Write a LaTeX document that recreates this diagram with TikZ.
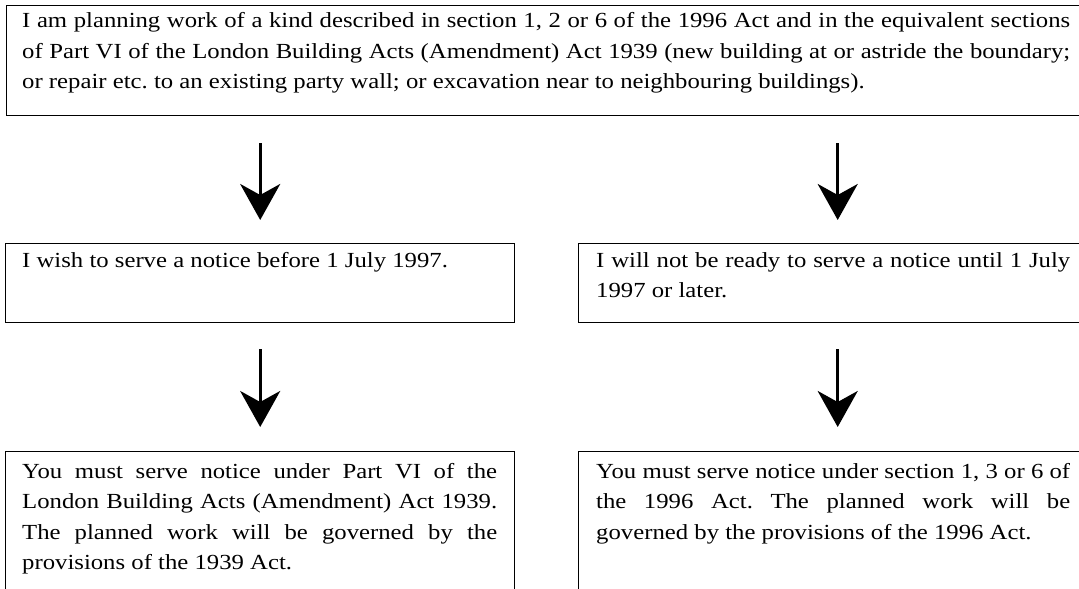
\documentclass[tikz,border=0pt]{standalone}
\usepackage{fontspec}
\setmainfont{Liberation Serif}[FakeStretch=1.15]
\usetikzlibrary{arrows.meta}
\frenchspacing
\newcommand{\jline}[1]{\makebox[\linewidth][s]{#1}\par}
\newcommand{\lline}[1]{\makebox[\linewidth][l]{#1}\par}
\tikzset{
  boxnode/.style={draw=black, line width=1.4pt, rectangle, inner sep=0pt, anchor=north west},
  txtnode/.style={anchor=base west, inner sep=0pt, font=\fontsize{21.5}{30.5}\selectfont},
  arr/.style={line width=3pt, -{Stealth[length=36pt,width=40pt,inset=11pt]}},
}
\begin{document}
\begin{tikzpicture}[x=1pt,y=-1pt]
\useasboundingbox (0,0) rectangle (1079,589);
\clip (0,0) rectangle (1079,589);
% boxes
\node[boxnode, minimum width=1090pt, minimum height=110pt] (top) at (6,5) {};
\node[boxnode, minimum width=509pt, minimum height=79pt] (ml) at (5,243) {};
\node[boxnode, minimum width=518pt, minimum height=79pt] (mr) at (578,243) {};
\node[boxnode, minimum width=509pt, minimum height=160pt] (bl) at (5,451) {};
\node[boxnode, minimum width=518pt, minimum height=160pt] (br) at (578,451) {};
% texts
\node[txtnode] (ttop) at (22,27.5) {\parbox[t]{1048pt}{%
\jline{I am planning work of a kind described in section 1, 2 or 6 of the 1996 Act and in the equivalent sections}
\jline{of Part VI of the London Building Acts (Amendment) Act 1939 (new building at or astride the boundary;}
\lline{or repair etc. to an existing party wall; or excavation near to neighbouring buildings).}}};
\node[txtnode] (tml) at (22,267) {\parbox[t]{475pt}{%
\lline{I wish to serve a notice before 1 July 1997.}}};
\node[txtnode] (tmr) at (596,267) {\parbox[t]{474pt}{%
\jline{I will not be ready to serve a notice until 1 July}
\lline{1997 or later.}}};
\node[txtnode] (tbl) at (22,478) {\parbox[t]{475pt}{%
\jline{You must serve notice under Part VI of the}
\jline{London Building Acts (Amendment) Act 1939.}
\jline{The planned work will be governed by the}
\lline{provisions of the 1939 Act.}}};
\node[txtnode] (tbr) at (596,478) {\parbox[t]{474pt}{%
\jline{You must serve notice under section 1, 3 or 6 of}
\jline{the 1996 Act. The planned work will be}
\lline{governed by the provisions of the 1996 Act.}}};
% arrows
\draw[arr, shorten <=27pt, shorten >=23pt] (ml.north |- top.south) -- (ml.north);
\draw[arr, shorten <=27pt, shorten >=23pt] (mr.north |- top.south) -- (mr.north);
\draw[arr, shorten <=26pt, shorten >=24pt] (ml.south) -- (bl.north);
\draw[arr, shorten <=26pt, shorten >=24pt] (mr.south) -- (br.north);
\end{tikzpicture}
\end{document}
